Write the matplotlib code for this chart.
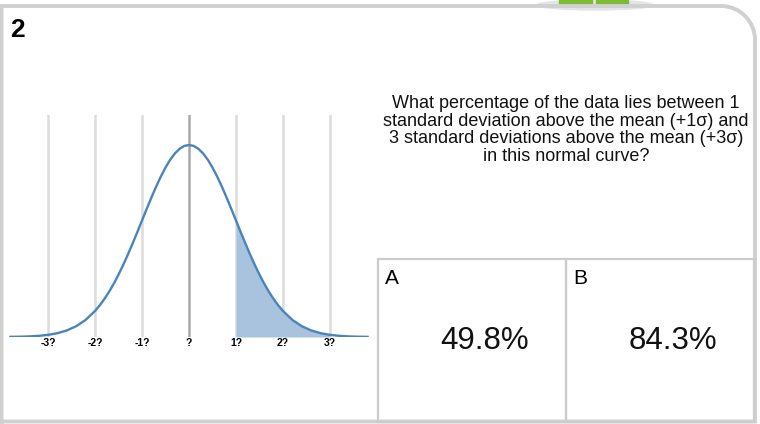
import matplotlib.pyplot as plt
from matplotlib.patches import Rectangle, Ellipse
from matplotlib.path import Path
from matplotlib.patches import PathPatch

# Normal curve (x in standard deviations, y = density)
curve_x = [-3.8, -3.6, -3.4, -3.2, -3.0, -2.8, -2.6, -2.4, -2.2,
           -2.0, -1.9, -1.8, -1.7, -1.6, -1.5, -1.4, -1.3, -1.2, -1.1,
           -1.0, -0.9, -0.8, -0.7, -0.6, -0.5, -0.4, -0.3, -0.2, -0.1,
           0.0, 0.1, 0.2, 0.3, 0.4, 0.5, 0.6, 0.7, 0.8, 0.9,
           1.0, 1.1, 1.2, 1.3, 1.4, 1.5, 1.6, 1.7, 1.8, 1.9,
           2.0, 2.2, 2.4, 2.6, 2.8, 3.0, 3.2, 3.4, 3.6, 3.8]
curve_y = [0.0003, 0.0006, 0.0012, 0.0024, 0.0044, 0.0079, 0.0136, 0.0224, 0.0355,
           0.0540, 0.0656, 0.0790, 0.0940, 0.1109, 0.1295, 0.1497, 0.1714, 0.1942, 0.2179,
           0.2420, 0.2661, 0.2897, 0.3123, 0.3332, 0.3521, 0.3683, 0.3814, 0.3910, 0.3970,
           0.3989, 0.3970, 0.3910, 0.3814, 0.3683, 0.3521, 0.3332, 0.3123, 0.2897, 0.2661,
           0.2420, 0.2179, 0.1942, 0.1714, 0.1497, 0.1295, 0.1109, 0.0940, 0.0790, 0.0656,
           0.0540, 0.0355, 0.0224, 0.0136, 0.0079, 0.0044, 0.0024, 0.0012, 0.0006, 0.0003]

tick_pos = [-3, -2, -1, 0, 1, 2, 3]
tick_labels = ['-3?', '-2?', '-1?', '?', '1?', '2?', '3?']
shade_from, shade_to = 1, 3

question = ('What percentage of the data lies between 1\n'
            'standard deviation above the mean (+1\u03c3) and\n'
            '3 standard deviations above the mean (+3\u03c3)\n'
            'in this normal curve?')
choices = ['A', 'B']
answers = ['49.8%', '84.3%']

plt.rcParams['font.family'] = ['Liberation Sans', 'DejaVu Sans']

W, H = 760, 424
fig = plt.figure(figsize=(W / 100, H / 100), dpi=100)

# page layer in pixel coordinates
bg = fig.add_axes([0, 0, 1, 1])
bg.set_xlim(0, W)
bg.set_ylim(H, 0)
bg.axis('off')

# green tab at the top
bg.add_patch(Ellipse((595, 5), 116, 10, color='#e3e6e6', zorder=1))
bg.add_patch(Rectangle((559, 0), 33, 4.5, color='#7dbb35', zorder=2))
bg.add_patch(Rectangle((596, 0), 32, 4.5, color='#7dbb35', zorder=2))

# outer frame with rounded top-right corner
r = 34
k = 0.5523 * r
verts = [(1.5, H), (1.5, 6), (755 - r, 6),
         (755 - r + k, 6), (755, 6 + r - k), (755, 6 + r),
         (755, 421.5), (1.5, 421.5)]
codes = [Path.MOVETO, Path.LINETO, Path.LINETO,
         Path.CURVE4, Path.CURVE4, Path.CURVE4,
         Path.LINETO, Path.LINETO]
bg.add_patch(PathPatch(Path(verts, codes), fill=False, edgecolor='#d0d0d0',
                       linewidth=2.8, zorder=3))

bg.text(10, 30, '2', fontsize=19, fontweight='bold', va='center', ha='left')

bg.text(566, 130, question, fontsize=13, ha='center', va='center',
        linespacing=1.03, color='#111111')

# answer boxes
box_x = [378, 566]
box_w = 188
for bx, letter, ans in zip(box_x, choices, answers):
    bg.add_patch(Rectangle((bx, 258.5), box_w, 163, fill=False,
                           edgecolor='#cccccc', linewidth=1.6, zorder=3))
    bg.text(bx + 7, 278, letter, fontsize=15, ha='left', va='center')
    bg.text(bx + 107, 341, ans, fontsize=22.5, ha='center', va='center',
            color='#111111')

# normal curve chart: 47 px per sigma, centre at x=189, baseline y=337
px = 47
left = 189 - 4 * px
bottom = H - 337
top = H - 115
ax = fig.add_axes([left / W, bottom / H, 8 * px / W, (top - bottom) / H])
peak = max(curve_y)
ax.set_xlim(-4, 4)
ax.set_ylim(0, peak * (337 - 115) / (337 - 145))
ax.axis('off')

for t, lab in zip(tick_pos, tick_labels):
    ax.axvline(t, color='#a8a8a8' if t == 0 else '#dcdcdc',
               linewidth=1.8, zorder=1)
    ax.text(t, -0.013, lab, fontsize=7.5, fontweight='bold',
            ha='center', va='center', clip_on=False)

sx = [x for x in curve_x if shade_from <= x <= shade_to]
sy = [y for x, y in zip(curve_x, curve_y) if shade_from <= x <= shade_to]
ax.fill_between(sx, sy, 0, color='#a9c3de', linewidth=0, zorder=2)
ax.plot(curve_x, curve_y, color='#4a84bb', linewidth=1.7, zorder=3)

fig.savefig('out.png', dpi=100)
